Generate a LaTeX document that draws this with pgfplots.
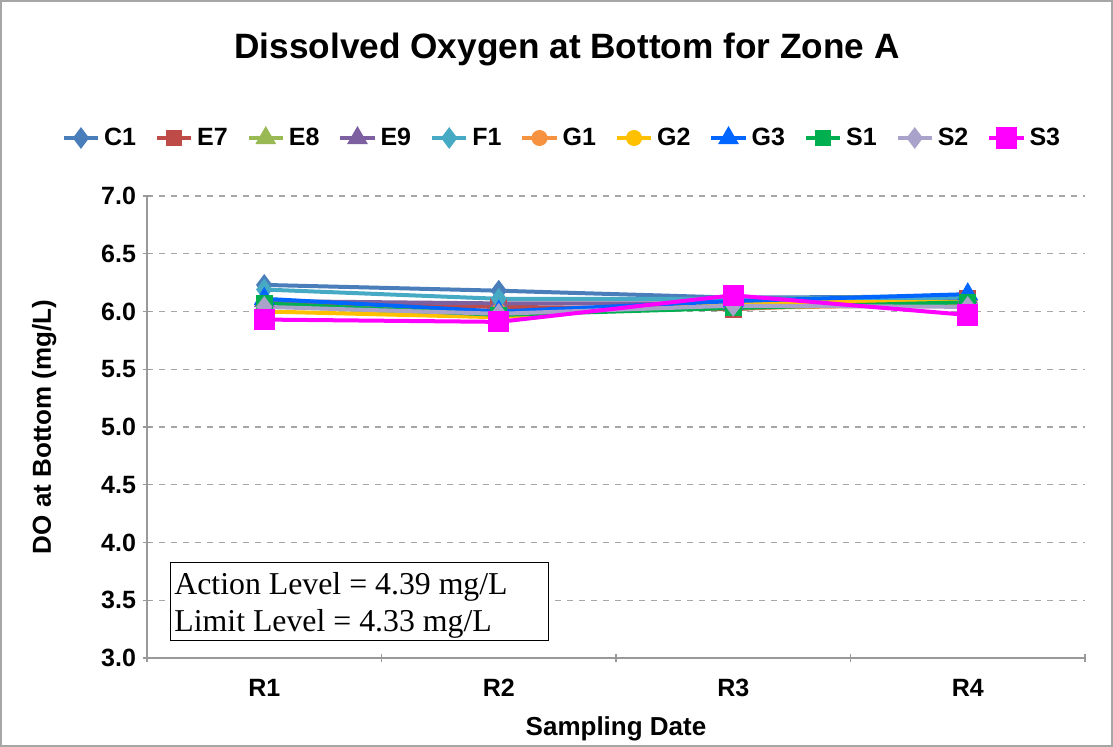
\documentclass[border=0pt]{standalone}
\usepackage{pgfplots}
\pgfplotsset{compat=1.18}
\usepackage{fontspec}
\setmainfont{Liberation Sans}
\newfontfamily\boxfont{Liberation Serif}

\definecolor{cC1}{HTML}{4A7EBB}
\definecolor{cE7}{HTML}{BE4B48}
\definecolor{cE8}{HTML}{98B954}
\definecolor{cE9}{HTML}{7D60A0}
\definecolor{cF1}{HTML}{46AAC5}
\definecolor{cG1}{HTML}{F69240}
\definecolor{cG2}{HTML}{FFC000}
\definecolor{cG3}{HTML}{0066FF}
\definecolor{cS1}{HTML}{00B050}
\definecolor{cS2}{HTML}{A9A2CA}
\definecolor{cS3}{HTML}{FF00FF}

\begin{document}
\begin{tikzpicture}
\useasboundingbox (0,0) rectangle (556.5pt,373.5pt);
\draw[gray!70, line width=0.8pt] (0.6pt,0.6pt) rectangle (555.9pt,372.9pt);

\node[font=\bfseries\fontsize{17.6}{20}\selectfont, anchor=center] at (283.5pt,349pt) {Dissolved Oxygen at Bottom for Zone A};

\begin{axis}[
    at={(73.5pt,44.5pt)}, anchor=south west,
    scale only axis,
    width=469pt, height=231pt,
    xmin=0.5, xmax=4.5,
    ymin=3, ymax=7,
    ytick={3,3.5,...,7},
    yticklabel style={font=\bfseries\fontsize{12.5}{14}\selectfont,
        /pgf/number format/fixed, /pgf/number format/fixed zerofill,
        /pgf/number format/precision=1, /pgf/number format/assume math mode=true},
    xtick={0.5,1.5,2.5,3.5,4.5},
    xticklabels={},
    extra x ticks={1,2,3,4},
    extra x tick labels={R1,R2,R3,R4},
    extra x tick style={major tick length=0pt, grid=none, tick label style={font=\bfseries\fontsize{12.5}{14}\selectfont, yshift=-7pt}},
    tick align=outside,
    major tick length=4pt,
    tick style={gray!80, line width=0.6pt},
    axis lines=left,
    axis line style={gray!80, line width=0.8pt, -},
    ymajorgrids=true,
    grid style={gray!70, dashed, line width=0.6pt},
    xlabel={Sampling Date},
    ylabel={DO at Bottom (mg/L)},
    xlabel style={font=\bfseries\fontsize{13}{15}\selectfont, yshift=-1pt},
    ylabel style={font=\bfseries\fontsize{13}{15}\selectfont, yshift=15.5pt},
    legend columns=11,
    legend style={at={(0.4435,1.1255)}, anchor=center, draw=none, fill=none,
        font=\bfseries\fontsize{12.5}{14}\selectfont,
        /tikz/every even column/.append style={column sep=7.5pt}},
    legend cell align=left,
    every axis plot/.append style={line width=2pt, mark options={solid}},
    clip=false,
]
\addplot[color=cC1, mark=diamond*, mark size=3.8pt] coordinates {(1,6.23) (2,6.18) (3,6.12) (4,6.13)};
\addlegendentry{C1}
\addplot[color=cE7, mark=square*, mark size=3.2pt] coordinates {(1,6.06) (2,6.04) (3,6.02) (4,6.11)};
\addlegendentry{E7}
\addplot[color=cE8, mark=triangle*, mark size=4pt] coordinates {(1,6.05) (2,5.96) (3,6.10) (4,6.14)};
\addlegendentry{E8}
\addplot[color=cE9, mark=triangle*, mark size=4pt] coordinates {(1,6.09) (2,6.07) (3,6.07) (4,6.12)};
\addlegendentry{E9}
\addplot[color=cF1, mark=diamond*, mark size=3.8pt] coordinates {(1,6.19) (2,6.11) (3,6.11) (4,6.12)};
\addlegendentry{F1}
\addplot[color=cG1, mark=*, mark size=3pt] coordinates {(1,6.05) (2,6.00) (3,6.03) (4,6.06)};
\addlegendentry{G1}
\addplot[color=cG2, mark=*, mark size=3pt] coordinates {(1,6.00) (2,5.95) (3,6.08) (4,6.08)};
\addlegendentry{G2}
\addplot[color=cG3, mark=triangle*, mark size=4pt] coordinates {(1,6.11) (2,6.00) (3,6.09) (4,6.15)};
\addlegendentry{G3}
\addplot[color=cS1, mark=square*, mark size=3.2pt] coordinates {(1,6.07) (2,5.97) (3,6.03) (4,6.08)};
\addlegendentry{S1}
\addplot[color=cS2, mark=diamond*, mark size=3.8pt] coordinates {(1,6.04) (2,5.98) (3,6.05) (4,6.04)};
\addlegendentry{S2}
\addplot[color=cS3, mark=square*, mark size=4.3pt] coordinates {(1,5.93) (2,5.91) (3,6.14) (4,5.97)};
\addlegendentry{S3}
\end{axis}

\node[draw=black, line width=0.7pt, fill=white, anchor=south west, minimum width=189pt, minimum height=39pt,
      inner sep=0pt] at (85pt,53pt) {};
\node[anchor=west, align=left, inner sep=0pt, font=\boxfont\fontsize{15.9}{18.5}\selectfont]
  at (87pt,71pt) {Action Level = 4.39 mg/L\\Limit Level = 4.33 mg/L};
\end{tikzpicture}
\end{document}
